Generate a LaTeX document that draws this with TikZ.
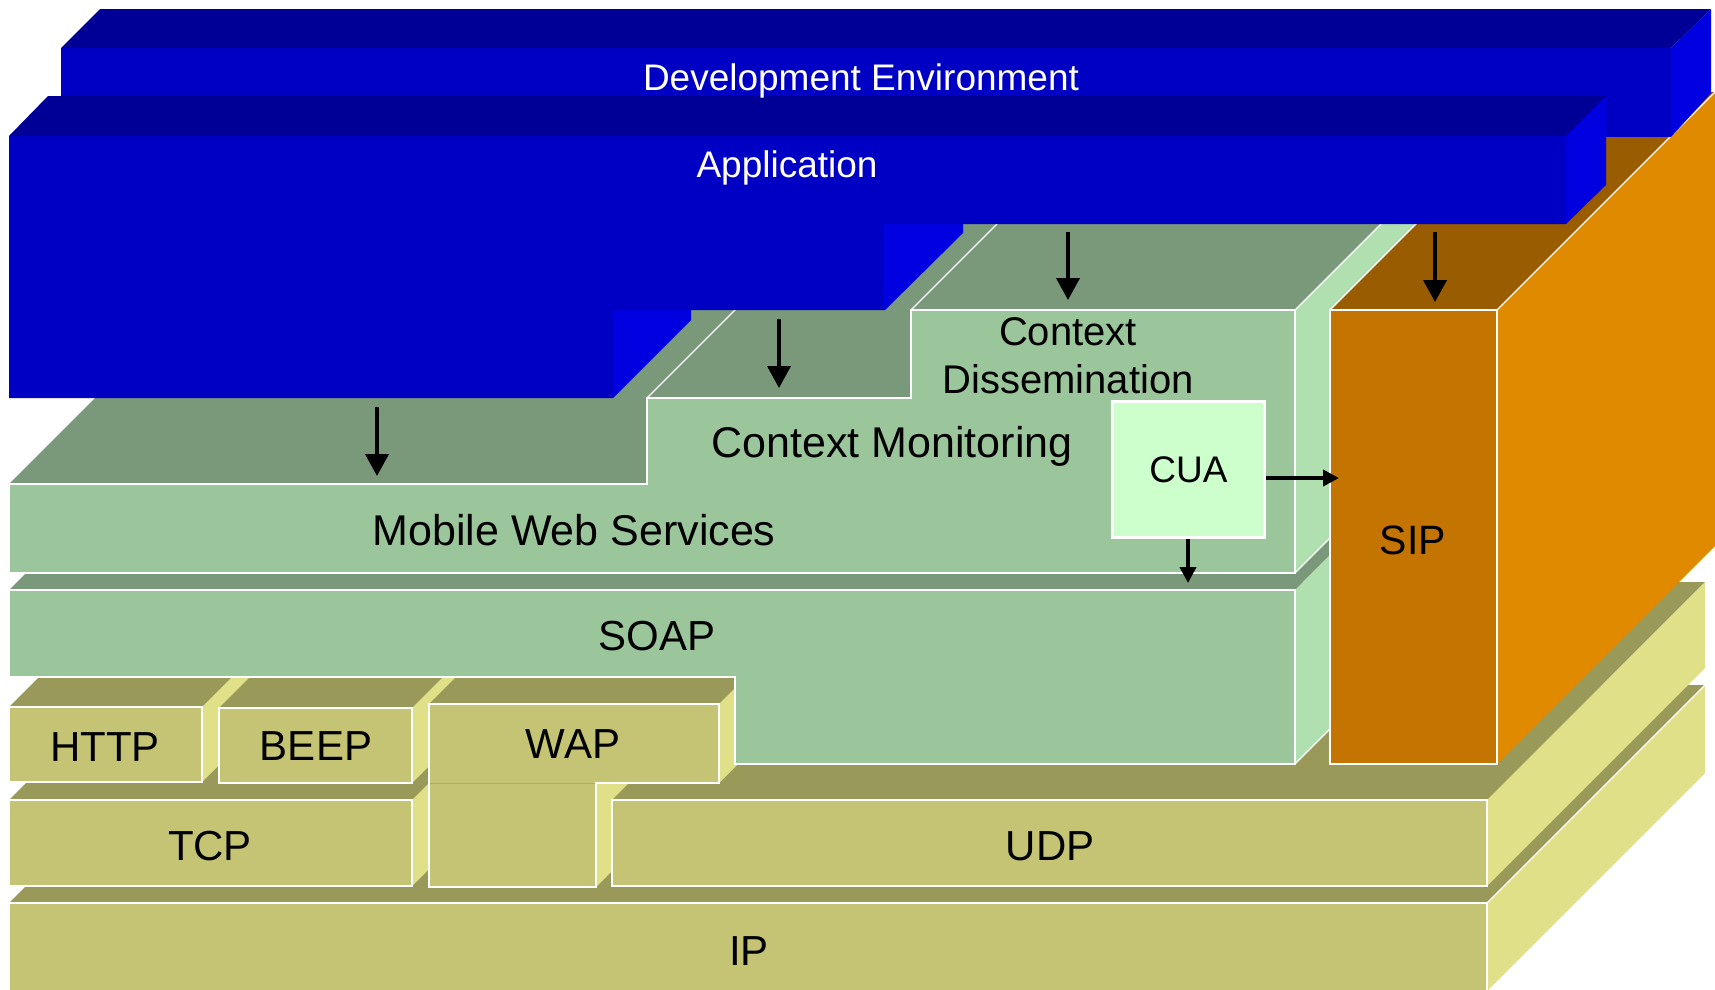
\documentclass[tikz,border=0pt]{standalone}
\usepackage{fontspec}
\setmainfont{Liberation Sans}
\usetikzlibrary{arrows.meta}
\definecolor{blF}{HTML}{0000C4}
\definecolor{blT}{HTML}{000096}
\definecolor{blS}{HTML}{0000E0}
\definecolor{grF}{HTML}{9BC59B}
\definecolor{grT}{HTML}{7A987A}
\definecolor{grS}{HTML}{B0DFB0}
\definecolor{yeF}{HTML}{C4C474}
\definecolor{yeT}{HTML}{99995A}
\definecolor{yeS}{HTML}{E0E088}
\definecolor{orF}{HTML}{C47400}
\definecolor{orT}{HTML}{995C00}
\definecolor{orS}{HTML}{E08A00}
\definecolor{cuaF}{HTML}{CCFFCC}
\begin{document}
\begin{tikzpicture}[x=1pt,y=-1pt,
  face/.style={draw=white,line width=1.2pt,line join=miter},
  wline/.style={draw=white,line width=1.2pt},
  lbl/.style={anchor=base,inner sep=0pt,font=\fontsize{42}{50}\selectfont},
  wlbl/.style={anchor=base,inner sep=0pt,text=white,font=\fontsize{37}{44}\selectfont},
  bigarrow/.style={line width=3.8pt,-{Triangle[length=22pt,width=23pt]}},
  smallarrow/.style={line width=3.8pt,-{Triangle[length=16pt,width=16pt]}},
]
\useasboundingbox (0,0) rectangle (1715,989);
\begin{scope}
\clip (0,0) rectangle (1715,989);

% ---------- IP ----------
\fill[yeT] (9,903)--(1487,903)--(1705,685)--(227,685)--cycle;
\fill[yeS] (1487,903)--(1705,685)--(1705,773)--(1487,991)--cycle;
\draw[wline] (1487,903)--(1705,685);
\filldraw[face,fill=yeF] (9,903) rectangle (1487,991);

% ---------- TCP ----------
\fill[yeT] (9,800)--(412,800)--(630,582)--(227,582)--cycle;
\fill[yeS] (412,800)--(630,582)--(630,668)--(412,886)--cycle;
\filldraw[face,fill=yeF] (9,800) rectangle (412,886);

% ---------- WAP lower side ----------
\fill[yeS] (596,783)--(814,565)--(814,669)--(596,887)--cycle;

% ---------- UDP ----------
\fill[yeT] (612,800)--(1487,800)--(1705,582)--(830,582)--cycle;
\fill[yeS] (1487,800)--(1705,582)--(1705,668)--(1487,886)--cycle;
\filldraw[face,fill=yeF] (612,800) rectangle (1487,886);

% ---------- HTTP ----------
\fill[yeT] (9,707)--(202,707)--(420,489)--(227,489)--cycle;
\fill[yeS] (202,707)--(420,489)--(420,564)--(202,782)--cycle;
\filldraw[face,fill=yeF] (9,707) rectangle (202,782);

% ---------- BEEP ----------
\fill[yeT] (219,708)--(412,708)--(630,490)--(437,490)--cycle;
\fill[yeS] (412,708)--(630,490)--(630,565)--(412,783)--cycle;
\filldraw[face,fill=yeF] (219,708) rectangle (412,783);

% ---------- WAP ----------
\fill[yeT] (429,704)--(719,704)--(937,486)--(647,486)--cycle;
\fill[yeS] (719,704)--(937,486)--(937,565)--(719,783)--cycle;
\filldraw[face,fill=yeF] (429,704)--(719,704)--(719,783)--(596,783)--(596,887)--(429,887)--cycle;
\draw[yeF!88!black,line width=1pt] (430,783)--(595,783);

% ---------- SOAP ----------
\fill[grT] (9,590)--(1295,590)--(1381,504)--(95,504)--cycle;
\fill[grS] (1295,590)--(1381,504)--(1381,678)--(1295,764)--cycle;
\draw[wline] (1295,764)--(1381,678);
\filldraw[face,fill=grF] (9,590)--(1295,590)--(1295,764)--(735,764)--(735,677)--(9,677)--cycle;

% ---------- Mobile Web Services / Context Monitoring / Dissemination ----------
\fill[grT] (9,484)--(647,484)--(835,296)--(200,296)--(95,398)--cycle;
\fill[grT] (647,398)--(911,398)--(911,310)--(997,224)--(821,224)--cycle;
\draw[wline] (647,398)--(821,224);
\fill[grT] (911,310)--(1295,310)--(1381,224)--(997,224)--cycle;
\draw[wline] (911,310)--(997,224);
\fill[grS] (1295,310)--(1381,224)--(1420,224)--(1420,448)--(1295,573)--cycle;
\draw[wline] (1295,310)--(1381,224);
\draw[wline] (1295,573)--(1340,528);
\filldraw[face,fill=grF] (9,484)--(647,484)--(647,398)--(911,398)--(911,310)--(1295,310)--(1295,573)--(9,573)--cycle;

% ---------- SIP ----------
\fill[orT] (1330,310)--(1497,310)--(1715,92)--(1548,92)--cycle;
\fill[orS] (1497,310)--(1715,92)--(1715,546)--(1497,764)--cycle;
\draw[wline] (1497,310)--(1715,92);
\draw[wline] (1330,310)--(1420,220);
\filldraw[face,fill=orF] (1330,310) rectangle (1497,764);

% ---------- Development Environment ----------
\fill[blT] (61,48)--(100,9)--(1711,9)--(1671,48)--cycle;
\fill[blS] (1671,48)--(1711,9)--(1711,93)--(1671,137)--cycle;
\fill[blF] (61,48) rectangle (1671,137);

% ---------- Application ----------
\fill[blT] (9,136)--(48,96)--(1606,96)--(1566,136)--cycle;
\fill[blS] (1566,136)--(1606,96)--(1606,185)--(1566,224)--cycle;
\fill[blS] (883,224)--(963,224)--(963,233)--(885,310)--(883,310)--cycle;
\fill[blS] (613,310)--(691,310)--(691,320)--(613,398)--cycle;
\fill[blF] (9,136)--(1566,136)--(1566,224)--(883,224)--(883,310)--(613,310)--(613,398)--(9,398)--cycle;
\end{scope}

% ---------- labels ----------
\node[wlbl] (devlbl) at (861,90) {Development Environment};
\node[wlbl] (applbl) at (787,177) {Application};
\node[lbl,font=\fontsize{40}{48}\selectfont] (ctx1) at (1068,345) {Context};
\node[lbl,font=\fontsize{40}{48}\selectfont] (ctx2) at (1068,393) {Dissemination};
\node[lbl,font=\fontsize{43}{50}\selectfont] (cmlbl) at (892,457) {Context Monitoring};
\node[lbl,font=\fontsize{43}{50}\selectfont] (mwslbl) at (574,545) {Mobile Web Services};
\node[lbl] (soaplbl) at (657,650) {SOAP};
\node[lbl,font=\fontsize{41}{48}\selectfont] (siplbl) at (1413,554) {SIP};
\node[lbl] (httplbl) at (105,761) {HTTP};
\node[lbl] (beeplbl) at (316,760) {BEEP};
\node[lbl] (waplbl) at (573,758) {WAP};
\node[lbl] (tcplbl) at (210,860) {TCP};
\node[lbl] (udplbl) at (1050,860) {UDP};
\node[lbl] (iplbl) at (749,965) {IP};

% ---------- CUA ----------
\node[draw=white,line width=3.3pt,fill=cuaF,minimum width=152pt,minimum height=136pt,
      inner sep=0pt,font=\fontsize{37}{44}\selectfont] (cua) at (1188.5,469.5) {CUA};

% ---------- arrows ----------
\coordinate (a1s) at (377,407); \coordinate (a1e) at (377,476);
\coordinate (a2s) at (779,319); \coordinate (a2e) at (779,388);
\coordinate (a3s) at (1068,232); \coordinate (a3e) at (1068,300);
\coordinate (a4s) at (1435,232); \coordinate (a4e) at (1435,302);
\coordinate (cuaR) at (1339,478);
\coordinate (cuaD) at (1188,583);
\draw[bigarrow] (a1s) -- (a1e);
\draw[bigarrow] (a2s) -- (a2e);
\draw[bigarrow] (a3s) -- (a3e);
\draw[bigarrow] (a4s) -- (a4e);
\draw[smallarrow] (cua.east |- cuaR) -- (cuaR);
\draw[smallarrow] (cua.south -| cuaD) -- (cuaD);
\end{tikzpicture}
\end{document}
